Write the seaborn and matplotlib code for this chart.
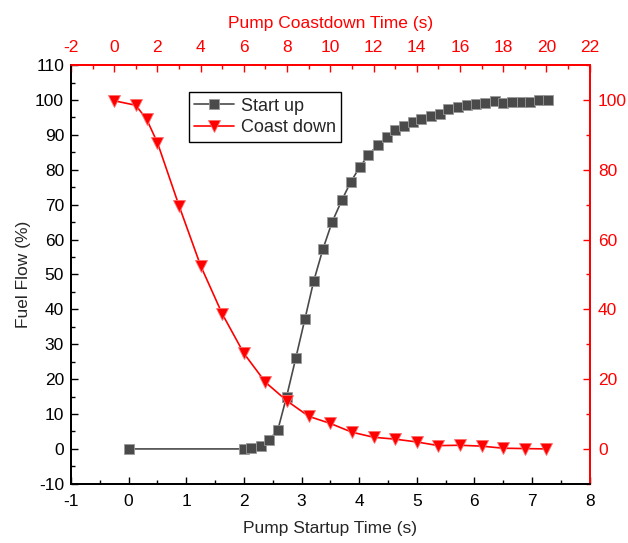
import matplotlib
matplotlib.use("Agg")
import matplotlib.pyplot as plt
from matplotlib.ticker import MultipleLocator
from matplotlib.lines import Line2D
import seaborn as sns

sns.set_style("ticks")
plt.rcParams["font.family"] = ["Liberation Sans", "DejaVu Sans"]
plt.rcParams["font.size"] = 12.5
plt.rcParams["axes.unicode_minus"] = False

# Pump start-up: fuel flow (%) vs startup time (s)
startup_time = [0.0, 2.0, 2.13, 2.29, 2.44, 2.59, 2.74, 2.90, 3.06, 3.21,
                3.37, 3.53, 3.70, 3.85, 4.01, 4.16, 4.32, 4.48, 4.63, 4.78,
                4.93, 5.08, 5.24, 5.40, 5.55, 5.71, 5.87, 6.03, 6.19, 6.35,
                6.50, 6.66, 6.82, 6.97, 7.12, 7.27]
startup_flow = [0.0, 0.0, 0.2, 0.8, 2.6, 5.5, 14.9, 26.0, 37.3, 48.0,
                57.2, 65.0, 71.3, 76.4, 80.8, 84.2, 87.1, 89.3, 91.4, 92.7,
                93.8, 94.7, 95.5, 96.1, 97.5, 98.0, 98.6, 98.8, 99.2, 99.8,
                99.2, 99.4, 99.4, 99.4, 99.9, 99.9]

# Pump coast-down: fuel flow (%) vs coastdown time (s)
coast_time = [0, 1, 1.5, 2, 3, 4, 5, 6, 7, 8, 9, 10, 11, 12, 13, 14, 15,
              16, 17, 18, 19, 20]
coast_flow = [99.8, 98.5, 94.5, 87.8, 69.7, 52.5, 38.7, 27.4, 19.1, 13.75,
              9.35, 7.3, 4.8, 3.35, 2.8, 2.0, 0.95, 1.05, 0.8, 0.2, 0.1, 0.0]

GRAY = "#4a4a4a"
RED = "#ff0000"

fig = plt.figure(figsize=(6.28, 5.43), dpi=100)
ax = fig.add_axes([0.113, 0.109, 0.826, 0.771])
ax_right = ax.twinx()
ax_top = ax_right.twiny()

sns.lineplot(x=startup_time, y=startup_flow, ax=ax, color=GRAY, marker="s",
             markersize=6.5, markeredgecolor="#9a9a9a", markeredgewidth=0.6,
             linewidth=1.2, legend=False)
sns.lineplot(x=coast_time, y=coast_flow, ax=ax_top, color=RED, marker="v",
             markersize=9, markeredgecolor="#ff6a6a", markeredgewidth=0.6,
             linewidth=1.2, legend=False)

# bottom / left axes
ax.set_xlim(-1, 8)
ax.set_ylim(-10, 110)
ax.xaxis.set_major_locator(MultipleLocator(1))
ax.xaxis.set_minor_locator(MultipleLocator(0.5))
ax.yaxis.set_major_locator(MultipleLocator(10))
ax.yaxis.set_minor_locator(MultipleLocator(5))
ax.set_xlabel("Pump Startup Time (s)", labelpad=9)
ax.set_ylabel("Fuel Flow (%)", labelpad=3)
ax.tick_params(axis="both", which="both", direction="in", colors="black",
               width=1.0)
ax.tick_params(which="major", length=5, pad=5)
ax.tick_params(axis="x", which="major", pad=7)
ax.tick_params(which="minor", length=3)

# right axis
ax_right.set_ylim(-10, 110)
ax_right.set_yticks([0, 20, 40, 60, 80, 100])
ax_right.yaxis.set_minor_locator(MultipleLocator(10))
ax_right.tick_params(axis="y", which="both", direction="in", colors=RED,
                     width=1.0)
ax_right.tick_params(which="major", length=5, pad=6)
ax_right.tick_params(which="minor", length=3)

# top axis
ax_top.set_xlim(-2, 22)
ax_top.xaxis.set_major_locator(MultipleLocator(2))
ax_top.xaxis.set_minor_locator(MultipleLocator(1))
ax_top.set_xlabel("Pump Coastdown Time (s)", color=RED, labelpad=9)
ax_top.tick_params(axis="x", which="both", direction="in", colors=RED,
                   width=1.0)
ax_top.tick_params(which="major", length=5, pad=7)
ax_top.tick_params(which="minor", length=3)
ax_top.set_ylim(-10, 110)

for a in (ax, ax_right, ax_top):
    a.spines["left"].set_color("black")
    a.spines["bottom"].set_color("black")
    a.spines["top"].set_color(RED)
    a.spines["right"].set_color(RED)
    for s in a.spines.values():
        s.set_linewidth(1.2)

handles = [
    Line2D([], [], color=GRAY, marker="s", markersize=6.5, linewidth=1.2,
           markeredgecolor="#9a9a9a", markeredgewidth=0.6),
    Line2D([], [], color=RED, marker="v", markersize=9, linewidth=1.2,
           markeredgecolor="#ff6a6a", markeredgewidth=0.6),
]
leg = ax_top.legend(handles, ["Start up", "Coast down"], loc="upper left",
                    bbox_to_anchor=(0.227, 0.935), frameon=True, fancybox=False,
                    edgecolor="black", framealpha=1, fontsize=13,
                    handlelength=2.2, borderpad=0.3, labelspacing=0.25,
                    handletextpad=0.4, borderaxespad=0)
leg.get_frame().set_linewidth(1.0)

fig.savefig("out.png", dpi=100)
